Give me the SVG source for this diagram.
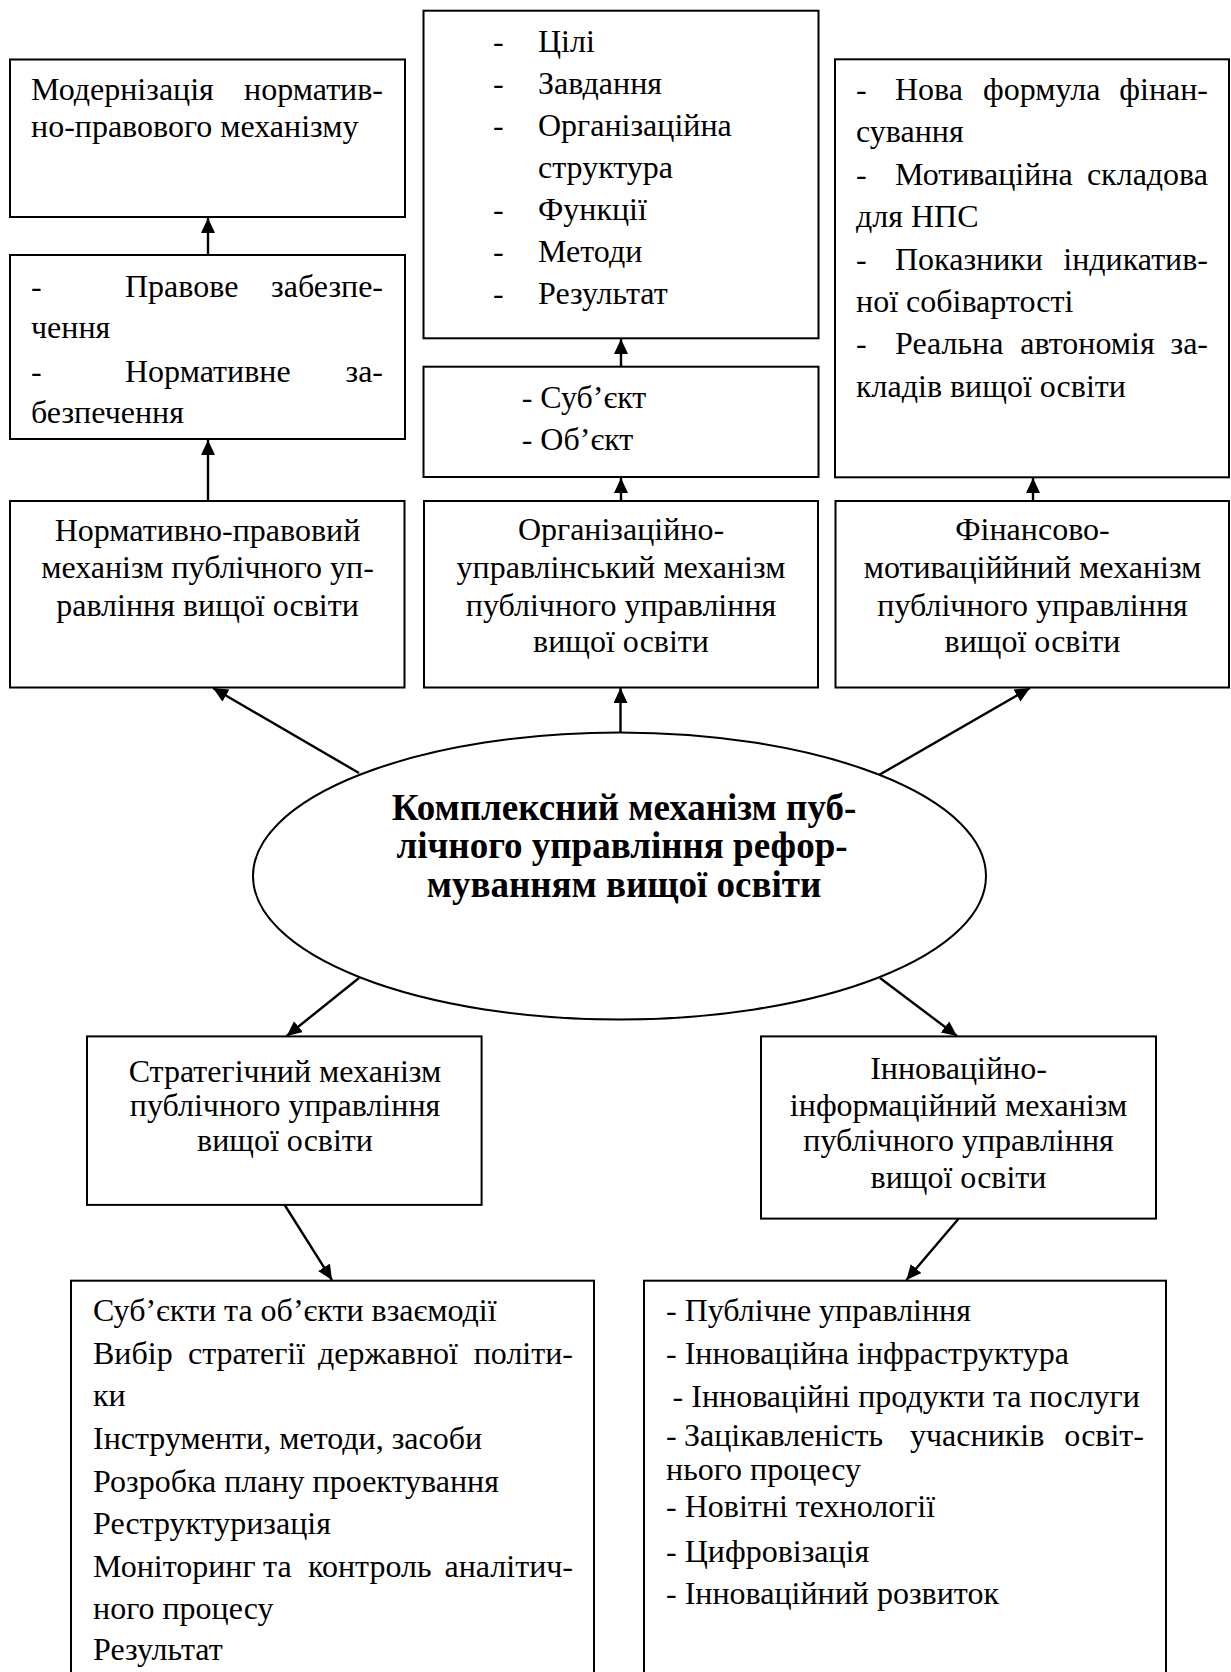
<svg xmlns="http://www.w3.org/2000/svg" width="1231" height="1672" viewBox="0 0 1231 1672">
<defs>
<style>
.box{fill:#fff;stroke:#000;stroke-width:2}
.t{font-family:"Liberation Serif","Times New Roman",serif;font-size:32px;fill:#000}
.c{text-anchor:middle}
.e{text-anchor:end}
.bold{font-weight:bold;font-size:37px}
.ln{stroke:#000;stroke-width:2.4;fill:none;marker-end:url(#ah)}
</style>
<marker id="ah" markerUnits="userSpaceOnUse" markerWidth="16" markerHeight="15" refX="15" refY="7" orient="auto">
<path d="M0,0 L15,7 L0,14 z" fill="#000"/>
</marker>
</defs>
<rect width="1231" height="1672" fill="#fff"/>

<g id="connectors">
<line class="ln" x1="208" y1="255" x2="208" y2="218"/>
<line class="ln" x1="208" y1="501" x2="208" y2="440"/>
<line class="ln" x1="621" y1="366.7" x2="621" y2="339"/>
<line class="ln" x1="621" y1="501" x2="621" y2="478"/>
<line class="ln" x1="1033" y1="501" x2="1033" y2="478"/>
<line class="ln" x1="359" y1="773" x2="213" y2="688"/>
<line class="ln" x1="620.5" y1="733" x2="620.5" y2="688"/>
<line class="ln" x1="879" y1="775" x2="1030" y2="688"/>
<line class="ln" x1="359" y1="978" x2="286.7" y2="1036"/>
<line class="ln" x1="284.7" y1="1205" x2="332" y2="1280"/>
<line class="ln" x1="880" y1="978" x2="957" y2="1036"/>
<line class="ln" x1="958.3" y1="1219" x2="906.4" y2="1280"/>
</g>

<g id="node-modernization">
<rect class="box" x="10" y="59.5" width="395" height="157.5"/>
<text class="t" x="31" y="100">Модернізація</text>
<text class="t e" x="383" y="100">норматив-</text>
<text class="t" x="31" y="137">но-правового механізму</text>
</g>

<g id="node-legal-support">
<rect class="box" x="10" y="255" width="395" height="184"/>
<text class="t" x="31" y="297">-</text>
<text class="t" x="125" y="297">Правове</text>
<text class="t e" x="383" y="297">забезпе-</text>
<text class="t" x="31" y="338">чення</text>
<text class="t" x="31" y="382">-</text>
<text class="t" x="125" y="382">Нормативне</text>
<text class="t e" x="383" y="382">за-</text>
<text class="t" x="31" y="423">безпечення</text>
</g>

<g id="node-normative">
<rect class="box" x="10" y="501" width="394.5" height="186.5"/>
<text class="t c" x="207.5" y="541">Нормативно-правовий</text>
<text class="t c" x="207.5" y="578">механізм публічного уп-</text>
<text class="t c" x="207.5" y="615.7">равління вищої освіти</text>
</g>

<g id="node-goals">
<rect class="box" x="423.5" y="10.7" width="395" height="327.6"/>
<text class="t" x="493" y="52">-</text><text class="t" x="538" y="52">Цілі</text>
<text class="t" x="493" y="94">-</text><text class="t" x="538" y="94">Завдання</text>
<text class="t" x="493" y="136">-</text><text class="t" x="538" y="136">Організаційна</text>
<text class="t" x="538" y="178">структура</text>
<text class="t" x="493" y="220">-</text><text class="t" x="538" y="220">Функції</text>
<text class="t" x="493" y="262">-</text><text class="t" x="538" y="262">Методи</text>
<text class="t" x="493" y="304">-</text><text class="t" x="538" y="304">Результат</text>
</g>

<g id="node-subject">
<rect class="box" x="423.5" y="366.7" width="395" height="110.3"/>
<text class="t" x="521.7" y="408">- Суб’єкт</text>
<text class="t" x="521.7" y="450">- Об’єкт</text>
</g>

<g id="node-organizational">
<rect class="box" x="424" y="501" width="394" height="186.5"/>
<text class="t c" x="621" y="540">Організаційно-</text>
<text class="t c" x="621" y="578">управлінський механізм</text>
<text class="t c" x="621" y="615.7">публічного управління</text>
<text class="t c" x="621" y="651.7">вищої освіти</text>
</g>

<g id="node-financing">
<rect class="box" x="835" y="59.3" width="394" height="418"/>
<text class="t" x="856" y="100">-</text>
<text class="t" x="895" y="100">Нова</text>
<text class="t c" x="1041.7" y="100">формула</text>
<text class="t e" x="1208" y="100">фінан-</text>
<text class="t" x="856" y="142">сування</text>
<text class="t" x="856" y="185">-</text>
<text class="t" x="895" y="185">Мотиваційна</text>
<text class="t e" x="1208" y="185">складова</text>
<text class="t" x="856" y="227">для НПС</text>
<text class="t" x="856" y="270">-</text>
<text class="t" x="895" y="270">Показники</text>
<text class="t e" x="1208" y="270">індикатив-</text>
<text class="t" x="856" y="312">ної собівартості</text>
<text class="t" x="856" y="354">-</text>
<text class="t" x="895" y="354">Реальна</text>
<text class="t c" x="1087.5" y="354">автономія</text>
<text class="t e" x="1208" y="354">за-</text>
<text class="t" x="856" y="397">кладів вищої освіти</text>
</g>

<g id="node-financial-motivational">
<rect class="box" x="835.5" y="501" width="393.5" height="186.5"/>
<text class="t c" x="1032.5" y="540">Фінансово-</text>
<text class="t c" x="1032.5" y="578">мотиваціййний механізм</text>
<text class="t c" x="1032.5" y="615.7">публічного управління</text>
<text class="t c" x="1032.5" y="651.7">вищої освіти</text>
</g>

<g id="node-complex">
<ellipse class="box" cx="619.5" cy="876" rx="366.5" ry="143.5"/>
<text class="t c bold" x="624" y="820">Комплексний механізм пуб-</text>
<text class="t c bold" x="622" y="858">лічного управління рефор-</text>
<text class="t c bold" x="624" y="897">муванням вищої освіти</text>
</g>

<g id="node-strategic">
<rect class="box" x="87" y="1036.4" width="394.6" height="168.5"/>
<text class="t c" x="285" y="1082">Стратегічний механізм</text>
<text class="t c" x="285" y="1116">публічного управління</text>
<text class="t c" x="285" y="1151">вищої освіти</text>
</g>

<g id="node-innovation">
<rect class="box" x="761" y="1036.4" width="395" height="182.2"/>
<text class="t c" x="958.5" y="1079">Інноваційно-</text>
<text class="t c" x="958.5" y="1116">інформаційний механізм</text>
<text class="t c" x="958.5" y="1151">публічного управління</text>
<text class="t c" x="958.5" y="1188">вищої освіти</text>
</g>

<g id="node-strategic-list">
<rect class="box" x="71" y="1280.7" width="523" height="420"/>
<text class="t" x="93" y="1321">Суб’єкти та об’єкти взаємодії</text>
<text class="t" x="93" y="1364">Вибір</text>
<text class="t" x="188" y="1364">стратегії</text>
<text class="t" x="318" y="1364">державної</text>
<text class="t e" x="573" y="1364">політи-</text>
<text class="t" x="93" y="1406">ки</text>
<text class="t" x="93" y="1449">Інструменти, методи, засоби</text>
<text class="t" x="93" y="1492">Розробка плану проектування</text>
<text class="t" x="93" y="1534">Реструктуризація</text>
<text class="t" x="93" y="1576.5">Моніторинг</text>
<text class="t" x="263" y="1576.5">та</text>
<text class="t" x="308" y="1576.5">контроль</text>
<text class="t e" x="573" y="1576.5">аналітич-</text>
<text class="t" x="93" y="1619">ного процесу</text>
<text class="t" x="93" y="1660">Результат</text>
</g>

<g id="node-innovation-list">
<rect class="box" x="644" y="1280.7" width="522" height="420"/>
<text class="t" x="666" y="1321">- Публічне управління</text>
<text class="t" x="666" y="1364">- Інноваційна інфраструктура</text>
<text class="t" x="672.6" y="1407">- Інноваційні продукти та послуги</text>
<text class="t" x="666" y="1446">-</text>
<text class="t" x="684" y="1446">Зацікавленість</text>
<text class="t" x="910" y="1446">учасників</text>
<text class="t e" x="1144" y="1446">освіт-</text>
<text class="t" x="666" y="1480">нього процесу</text>
<text class="t" x="666" y="1516.5">- Новітні технології</text>
<text class="t" x="666" y="1561.5">- Цифровізація</text>
<text class="t" x="666" y="1604">- Інноваційний розвиток</text>
</g>
</svg>
